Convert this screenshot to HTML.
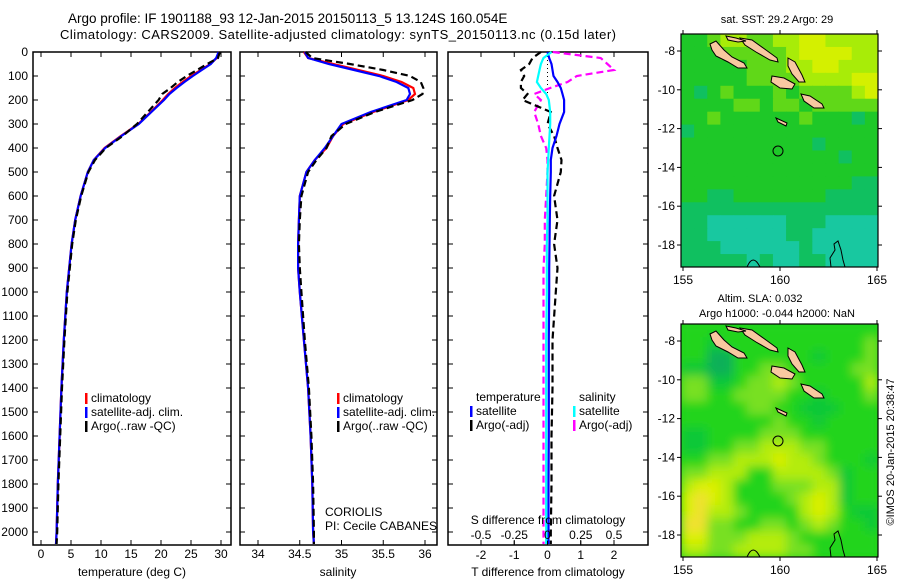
<!DOCTYPE html>
<html><head><meta charset="utf-8"><style>
body{margin:0;background:#fff;}
svg{display:block;font-family:"Liberation Sans",sans-serif;}
</style></head><body>
<svg id="fig" width="900" height="580" viewBox="0 0 900 580" xmlns="http://www.w3.org/2000/svg">
<defs>
<clipPath id="c1"><rect x="681" y="34" width="197" height="233"/></clipPath>
<clipPath id="c2"><rect x="681" y="324" width="197" height="233"/></clipPath>
<filter id="blur" x="0" y="0" width="1" height="1"><feGaussianBlur stdDeviation="5" edgeMode="duplicate"/></filter>
</defs>
<text x="68" y="23" font-size="13.5">Argo profile: IF 1901188_93 12-Jan-2015 20150113_5 13.124S 160.054E</text>
<text x="60" y="39" font-size="13" textLength="556">Climatology: CARS2009. Satellite-adjusted climatology: synTS_20150113.nc (0.15d later)</text>
<g id="plots"></g>
</svg>
<script>
// ---- profile data ----
const depths = [0,25,50,75,100,125,150,175,200,250,300,350,400,450,500,600,700,800,900,1000,1200,1400,1600,1800,2000,2050];
const tClim = [29.7,29.3,28.2,26.6,25.0,23.6,22.3,21.2,20.3,18.3,16.2,13.3,10.6,8.8,7.8,6.6,5.7,5.1,4.7,4.3,3.8,3.4,3.1,2.8,2.6,2.5];
const tSat  = [29.6,29.2,28.3,26.8,25.3,23.9,22.6,21.4,20.5,18.4,16.3,13.4,10.7,8.8,7.8,6.6,5.7,5.1,4.7,4.3,3.8,3.4,3.1,2.8,2.6,2.5];
const tArgo = [29.8,29.5,27.7,26.0,24.3,22.8,21.6,20.2,19.6,17.8,16.0,13.6,10.8,9.0,7.9,6.7,5.8,5.2,4.8,4.4,3.9,3.5,3.2,2.9,2.7,2.6];
const sClim = [34.55,34.6,34.9,35.2,35.5,35.72,35.86,35.88,35.8,35.38,35.02,34.9,34.82,34.68,34.58,34.5,34.49,34.48,34.48,34.5,34.55,34.6,34.63,34.65,34.66,34.67];
const sSat  = [34.56,34.6,34.85,35.15,35.45,35.66,35.8,35.82,35.78,35.35,35.0,34.9,34.8,34.68,34.58,34.5,34.49,34.48,34.48,34.5,34.55,34.6,34.63,34.65,34.66,34.67];
const sArgo = [34.57,34.65,35.1,35.5,35.82,35.95,35.98,35.97,35.85,35.4,35.05,34.88,34.82,34.7,34.6,34.52,34.5,34.49,34.5,34.52,34.56,34.61,34.64,34.66,34.67,34.67];
const dTSat  = [0,0.05,0.12,0.15,0.18,0.3,0.4,0.45,0.5,0.5,0.36,0.27,0.15,0.1,0.1,0.08,0.07,0.06,0.05,0.05,0.04,0.04,0.04,0.03,0.03,0.03];
const dTArgo = [-0.2,-0.45,-0.55,-0.8,-0.7,-0.8,-0.8,-0.6,-0.75,0.1,0.0,0.2,0.3,0.42,0.4,0.2,0.3,0.2,0.3,0.25,0.15,0.15,0.12,0.12,0.1,0.1];
const dSSat  = [0.03,-0.03,-0.05,-0.06,-0.07,-0.08,-0.05,-0.01,0.01,0.02,0.02,0.015,0.01,0.005,0,0,0,-0.005,-0.005,-0.005,-0.01,-0.01,-0.01,-0.01,-0.01,-0.01];
const dSArgo = [0.04,0.4,0.45,0.5,0.22,0.15,0.02,-0.1,-0.05,-0.1,-0.07,-0.05,-0.01,0,0,-0.01,-0.02,-0.02,-0.03,-0.03,-0.03,-0.03,-0.03,-0.03,-0.03,-0.03];
const depthTicks = [0,100,200,300,400,500,600,700,800,900,1000,1100,1200,1300,1400,1500,1600,1700,1800,1900,2000];
const tTicks = [0,5,10,15,20,25,30];
const sTicks = [34,34.5,35,35.5,36];
const sTickLabels = ["34","34.5","35","35.5","36"];
const dTTicks = [-2,-1,0,1,2];
const dSTicks = [-0.5,-0.25,0,0.25,0.5];
const dSTickLabels = ["-0.5","-0.25","0","0.25","0.5"];
// ---- map data (colour index per cell, 15 cols x 18 rows) ----
const sstGrid = ["556776677887777","555666667888877","555556667788777","555556666777788","545655565666678","555566566566666","556555555655545","455555555555555","555555555545555","555555555555455","555555555555555","555555555555544","554455555554444","444444444444444","443333334443333","443333334433333","444333333433333","444443433443333"];
const slaGrid = ["555555555555555","554555555555556","553355555545556","443355665555566","664456676555557","665566665545556","555556655444555","555555565545555","445555666555555","445566777665555","556677787765554","667775577776455","788755566677455","898755556787455","897765555787544","996655665676554","886667776555555","776677776655555"];
const lonTicks = [155,160,165];
const latTicks = [-8,-10,-12,-14,-16,-18];

const NS="http://www.w3.org/2000/svg";
const root=document.getElementById('plots');
function mk(tag,attrs,parent){const e=document.createElementNS(NS,tag);for(const k in attrs)e.setAttribute(k,attrs[k]);(parent||root).appendChild(e);return e;}
function txt(x,y,s,size,anchor,parent){const t=mk('text',{x:x,y:y,'font-size':size||12,'text-anchor':anchor||'start'},parent);t.textContent=s;return t;}

const Y0=52, Y1=545;
function ys(d){return Y0+d*0.24;}
function linear(v0,v1,p0,p1){return v=>p0+(v-v0)/(v1-v0)*(p1-p0);}

function panel(name,x0,x1){
  const g=mk('g',{});
  
  
  mk('rect',{x:x0,y:Y0,width:x1-x0,height:Y1-Y0,fill:'none',stroke:'#000','stroke-width':1.5},g);
  return g;
}
function line(g,xs,vals,color,dash,name,w){
  const d=vals.map((v,i)=>(i?'L':'M')+xs(v).toFixed(1)+','+ys(depths[i]).toFixed(1)).join('');
  const p=mk('path',{d:d,fill:'none',stroke:color,'stroke-width':w||2.2,'stroke-dasharray':dash||'none'},g);
  
  
}
function xticks(g,xs,ticks,labels,ly,top){
  ticks.forEach((t,i)=>{const x=xs(t);
    mk('line',{x1:x,y1:Y1,x2:x,y2:Y1-5,stroke:'#000'},g);
    if(top) mk('line',{x1:x,y1:Y0,x2:x,y2:Y0+5,stroke:'#000'},g);
    const lb=txt(x,ly,labels?labels[i]:String(t),12,'middle',g);
    
    
  });
}
function legend(g,x,y,items){
  items.forEach((it,i)=>{
    if(it[0]) mk('rect',{x:x,y:y+i*14-9,width:2.5,height:11,fill:it[0]},g);
    const t=txt(x+6,y+i*14,it[1],12,'start',g);
    
    
  });
}

// Panel 1: temperature
const g1=panel('temperature-panel',33,231);
const xT=linear(0,30,41,221);
depthTicks.forEach(d=>{mk('line',{x1:33,y1:ys(d),x2:38,y2:ys(d),stroke:'#000'},g1);mk('line',{x1:231,y1:ys(d),x2:226,y2:ys(d),stroke:'#000'},g1);
  const t=txt(28,ys(d)+4,String(d),12,'end',g1);
  
  });
xticks(g1,xT,tTicks,null,558,true);
line(g1,xT,tClim,'#f00',null,'temp-climatology-line');
line(g1,xT,tSat,'#00f',null,'temp-satellite-line');
line(g1,xT,tArgo,'#000','7,4','temp-argo-line');
const xl1=txt(132,576,'temperature (deg C)',12,'middle',g1);


legend(g1,85,402,[['#f00','climatology'],['#00f','satellite-adj. clim.'],['#000','Argo(..raw -QC)']]);

// Panel 2: salinity
const g2=panel('salinity-panel',240,437);
const xS=linear(34,36,258,425);
depthTicks.forEach(d=>{mk('line',{x1:240,y1:ys(d),x2:245,y2:ys(d),stroke:'#000'},g2);mk('line',{x1:437,y1:ys(d),x2:432,y2:ys(d),stroke:'#000'},g2);});
xticks(g2,xS,sTicks,sTickLabels,558,true);
line(g2,xS,sClim,'#f00',null,'sal-climatology-line');
line(g2,xS,sSat,'#00f',null,'sal-satellite-line');
line(g2,xS,sArgo,'#000','7,4','sal-argo-line');
const xl2=txt(338,576,'salinity',12,'middle',g2);


legend(g2,337,402,[['#f00','climatology'],['#00f','satellite-adj. clim.'],['#000','Argo(..raw -QC)']]);
const c1=txt(325,516,'CORIOLIS',12,'start',g2);


const c2=txt(325,530,'PI: Cecile CABANES',12,'start',g2);



// Panel 3: differences
const g3=panel('difference-panel',448,648);
const xD=linear(0,2,547.5,614);
const xDS=linear(0,0.5,547.5,614);
depthTicks.forEach(d=>{mk('line',{x1:448,y1:ys(d),x2:453,y2:ys(d),stroke:'#000'},g3);mk('line',{x1:648,y1:ys(d),x2:643,y2:ys(d),stroke:'#000'},g3);});
xticks(g3,xD,dTTicks,null,559,true);
mk('line',{x1:xD(0),y1:Y0,x2:xD(0),y2:ys(180),stroke:'#000','stroke-dasharray':'1,3'},g3);
line(g3,xDS,dSArgo,'#f0f','7,4','sal-diff-argo-line');
line(g3,xD,dTArgo,'#000','7,4','temp-diff-argo-line');
line(g3,xD,dTSat,'#00f',null,'temp-diff-satellite-line');
line(g3,xDS,dSSat,'#0ff',null,'sal-diff-satellite-line');
dSTicks.forEach((t,i)=>{const x=xDS(t);mk('line',{x1:x,y1:Y1,x2:x,y2:Y1-4,stroke:'#000'},g3);
  const l=txt(x,539,dSTickLabels[i],12,'middle',g3);
  
  });
const st=txt(548,524,'S difference from climatology',12,'middle',g3);


const tt=txt(548,576,'T difference from climatology',12,'middle',g3);


legend(g3,470,401,[[null,'temperature'],['#00f','satellite'],['#000','Argo(-adj)']]);
legend(g3,573,401,[[null,'     salinity'],['#0ff','satellite'],['#f0f','Argo(-adj)']]);

// ---- Maps ----
const sstCol={3:'#18c8a0',4:'#10c060',5:'#1ec828',6:'#60d818',7:'#a8ec08',8:'#d4f000'};
const slaCol={3:'#10b058',4:'#10c838',5:'#20d41c',6:'#78e020',7:'#b4ec10',8:'#dcf000',9:'#f0e030'};
function map(name,top,grid,cols,clip,blur){
  const g=mk('g',{});
  
  
  const L=681,R=878,H=233,cw=(R-L)/15,ch=H/18;
  const cg=mk('g',{'clip-path':'url(#'+clip+')'},g);
  mk('rect',{x:L,y:top,width:R-L,height:H,fill:cols[5]},cg);
  const inner=mk('g',blur?{filter:'url(#blur)'}:{},cg);
  grid.forEach((row,r)=>{for(let c=0;c<row.length;c++){
    const cell=mk('rect',{x:(L+c*cw).toFixed(2),y:(top+r*ch).toFixed(2),width:(cw+0.6).toFixed(2),height:(ch+0.6).toFixed(2),fill:cols[row[c]]},inner);
    
    
  }});
  const dy=top-34;
  const isl=[[[710,44],[716,41],[724,50],[732,57],[744,63],[747,68],[738,68],[728,62],[716,56],[712,50]],
    [[740,38],[752,40],[766,50],[777,58],[778,62],[770,60],[756,52],[745,45]],
    [[772,76],[784,78],[795,84],[792,89],[780,88],[771,82]],
    [[788,58],[795,62],[802,75],[805,82],[799,82],[792,74],[788,66]],
    [[801,94],[810,96],[822,104],[824,108],[814,108],[804,101]],
    [[726,36],[736,38],[746,41],[738,42],[728,40]],
    [[776,118],[787,123],[786,126],[778,122]]];
  isl.forEach(p=>{const s=mk('polygon',{points:p.map(q=>q[0]+','+(q[1]+dy)).join(' '),fill:'#f8c8a0',stroke:'#000','stroke-width':1},cg);
    
    });
  mk('path',{d:`M747,${267+dy} Q753,${253+dy} 760,${267+dy} M831,${267+dy} L830,${258+dy} L835,${250+dy} L834,${244+dy} L838,${241+dy} L841,${250+dy} L843,${260+dy} L845,${267+dy}`,fill:'none',stroke:'#000'},cg);
  const ring=mk('circle',{cx:778,cy:151+dy,r:5,fill:'none',stroke:'#000'},g);
  
  
  mk('rect',{x:L,y:top,width:R-L,height:H,fill:'none',stroke:'#000','stroke-width':1.2},g);
  const xl=linear(155,165,683,877), yl=linear(-8,-18,51+dy,245+dy);
  lonTicks.forEach(v=>{const x=xl(v);mk('line',{x1:x,y1:top+H,x2:x,y2:top+H+4,stroke:'#000'},g);mk('line',{x1:x,y1:top,x2:x,y2:top-4,stroke:'#000'},g);
    const t=txt(x,top+H+17,String(v),12,'middle',g);
    
    });
  latTicks.forEach(v=>{const y=yl(v);mk('line',{x1:L,y1:y,x2:L-4,y2:y,stroke:'#000'},g);mk('line',{x1:R,y1:y,x2:R+4,y2:y,stroke:'#000'},g);
    const t=txt(L-6,y+4,String(v),12,'end',g);
    
    });
  return g;
}
const m1=map('sst-map',34,sstGrid,sstCol,'c1',false);
const m2=map('sla-map',324,slaGrid,slaCol,'c2',true);
const t1=txt(777,23,'sat. SST: 29.2 Argo: 29',11,'middle');


const t2=txt(760,302,'Altim. SLA: 0.032',11,'middle');


const t3=txt(777,317,'Argo h1000: -0.044 h2000: NaN',11,'middle');


const cr=txt(0,0,'©IMOS 20-Jan-2015 20:38:47',11,'middle');
cr.setAttribute('transform','translate(894,452) rotate(-90)');


</script>
</body></html>
